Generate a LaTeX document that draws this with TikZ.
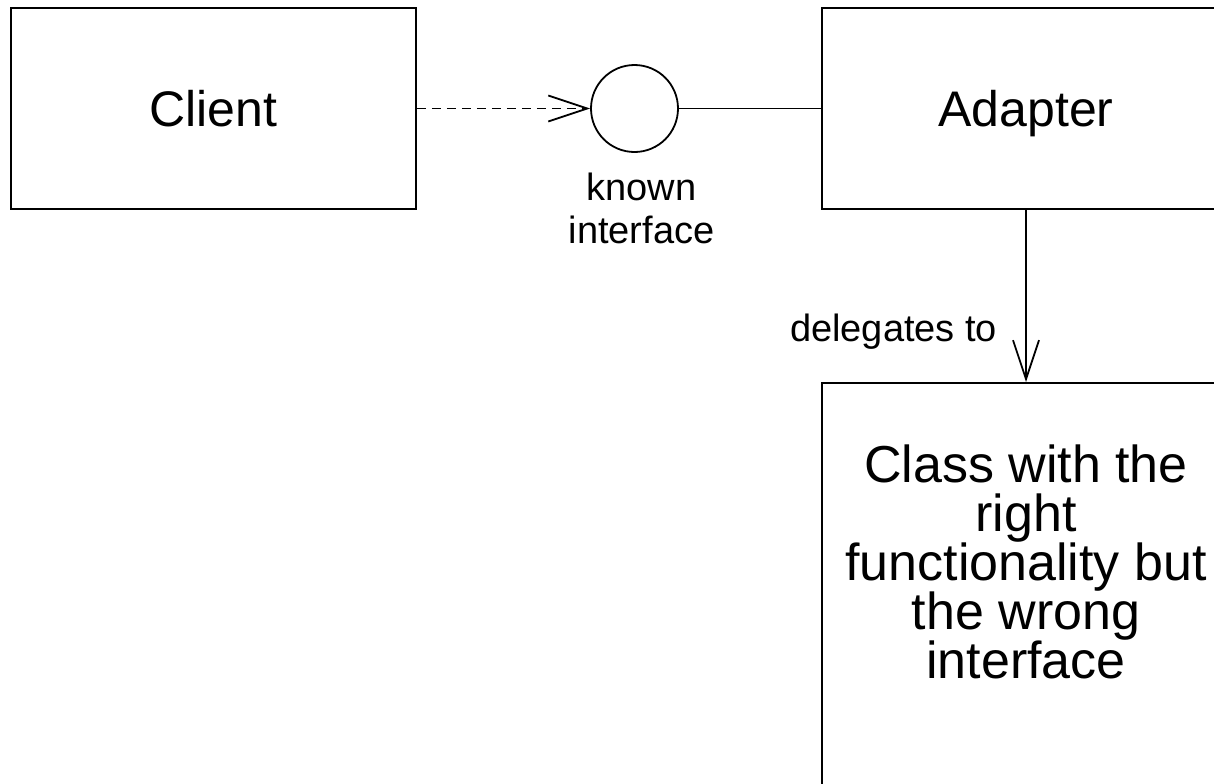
\documentclass[tikz,border=0pt]{standalone}
\usepackage{fontspec}
\setmainfont{Liberation Sans}
\usetikzlibrary{arrows.meta,positioning}

\begin{document}
\begin{tikzpicture}[x=0.5pt, y=-0.5pt, line width=0.9pt,
    box/.style={rectangle, draw, minimum width=204pt, minimum height=100.5pt, text height=18pt, text depth=0pt, font=\fontsize{25}{26}\selectfont},
    lbl/.style={inner sep=0pt, align=center, font=\fontsize{19}{21.5}\selectfont},
    uses/.style={-{Straight Barb[length=19.5pt,width=13pt]}}]
  \useasboundingbox (0,0) rectangle (1214,783);

  \node[box, minimum width=202.5pt] (client) at (213.5,108.5) {Client};
  \node[box] (adapter) at (1026,108.5) {Adapter};
  \node[circle, draw, minimum size=43.5pt, inner sep=0pt] (iface) at (634.5,108.5) {};
  \node[box, minimum height=215pt, anchor=north] (wrong) at (1026,382) {};
  \node[lbl, font=\fontsize{26}{24.5}\selectfont] (wrongtext) at (1026,562) {Class with the\\right\\functionality but\\the wrong\\interface};
  \node[lbl, below=9.5pt of iface, xshift=3.5pt] (ifacelbl) {known\\interface};

  \draw[uses, dash pattern=on 4.5pt off 3pt] (client) -- (iface);
  \draw (iface) -- (adapter);
  \draw[uses] (adapter) -- node[lbl, pos=0.71, left=14pt] {delegates to} (wrong);
\end{tikzpicture}
\end{document}
